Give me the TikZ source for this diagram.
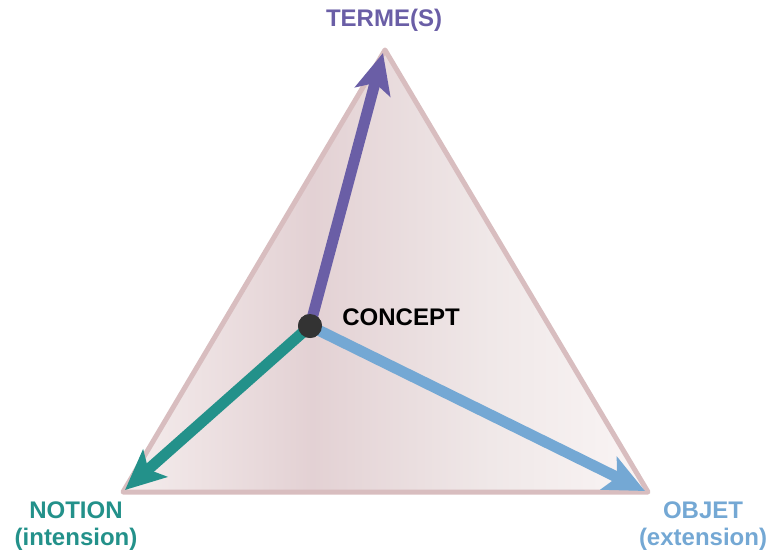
\documentclass[tikz,border=0pt]{standalone}
\usepackage{fontspec}
\setmainfont{Liberation Sans}
\usepackage{xcolor}
\usetikzlibrary{arrows.meta, positioning, calc}

\definecolor{termcol}{HTML}{6A5EA6}
\definecolor{notioncol}{HTML}{23918A}
\definecolor{objetcol}{HTML}{74A8D4}
\definecolor{edgecol}{HTML}{D8BDBF}
\definecolor{dotcol}{HTML}{333333}

\pgfdeclarehorizontalshading{trifill}{100bp}{
  rgb(0bp)=(0.96,0.93,0.93);
  rgb(25bp)=(0.96,0.93,0.93);
  rgb(43bp)=(0.89,0.82,0.83);
  rgb(60bp)=(0.94,0.91,0.91);
  rgb(75bp)=(0.98,0.96,0.96);
  rgb(100bp)=(0.98,0.96,0.96)}

\begin{document}
\begin{tikzpicture}[x=1pt, y=-1pt,
    lbl/.style={font=\fontsize{24}{27}\selectfont\bfseries, align=center, inner sep=0pt},
    arr/.style={-{Stealth[length=40pt, width=36pt, inset=9pt]}, line width=11pt}
]
\useasboundingbox (0,0) rectangle (768,553);

% triangle
\coordinate (top) at (385,50);
\coordinate (bl) at (123,492);
\coordinate (br) at (648,492);
\shade[shading=trifill] (top) -- (bl) -- (br) -- cycle;
\draw[edgecol, line width=5pt, line join=round] (top) -- (bl) -- (br) -- cycle;

% centre
\node[circle, fill=dotcol, minimum size=24pt, inner sep=0pt] (concept) at (310,326) {};
\node[lbl, right=20pt of concept, yshift=9pt] (clbl) {CONCEPT};

% arrows
\draw[arr, termcol] (concept.center) -- ($(top)+(-2,3)$);
\draw[arr, notioncol] (concept.center) -- ($(bl)+(2,-2)$);
\draw[arr, objetcol] (concept.center) -- ($(br)+(-3,-1)$);
\node[circle, fill=dotcol, minimum size=24pt, inner sep=0pt] at (concept) {};

% labels
\node[lbl, text=termcol] (terme) at (384,20) {TERME(S)};
\node[lbl, text=notioncol] (notion) at (76,526) {NOTION\\(intension)};
\node[lbl, text=objetcol] (objet) at (703,526) {OBJET\\(extension)};
\end{tikzpicture}
\end{document}
